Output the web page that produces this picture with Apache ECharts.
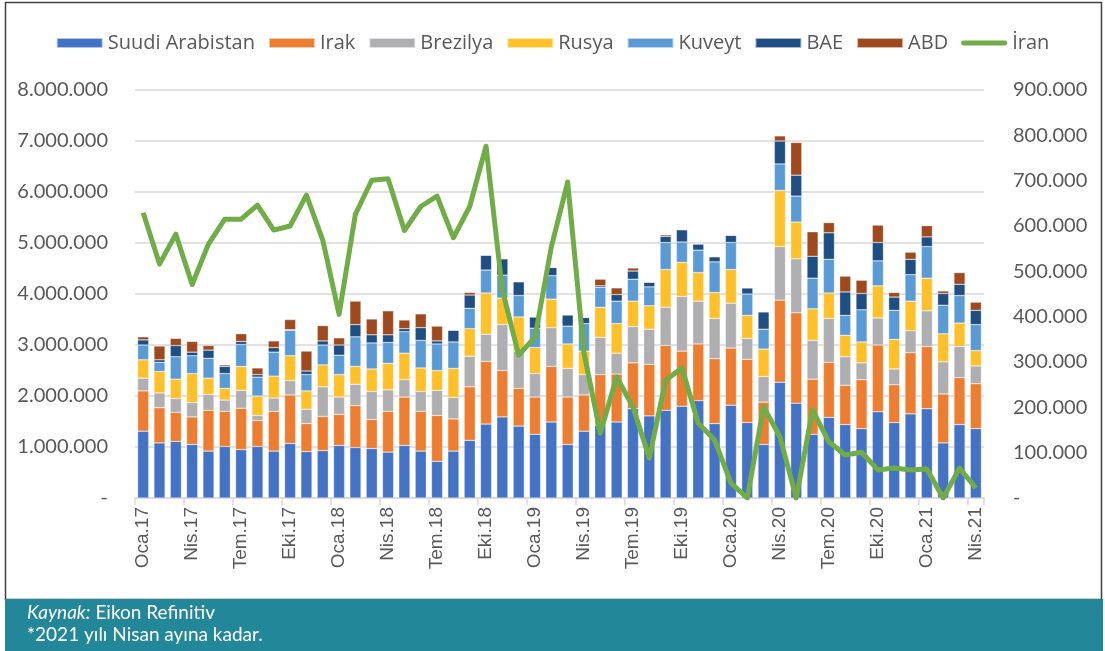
<!DOCTYPE html>
<html>
<head>
<meta charset="utf-8">
<script src="https://cdn.jsdelivr.net/npm/echarts@6/dist/echarts.min.js"></script>
<style>
  html, body { margin: 0; padding: 0; background: #fff; }
  #chart { width: 1105px; height: 651px; }
</style>
</head>
<body>
<div id="chart"></div>
<script>
// ay adlari, yillar
const months = ['Oca', 'Şub', 'Mar', 'Nis', 'May', 'Haz', 'Tem', 'Ağu', 'Eyl', 'Eki', 'Kas', 'Ara']
const years = ['17', '18', '19', '20', '21']
const categories = []
years.forEach(y => months.forEach(m => categories.push(m + '.' + y)))
categories.length = 52 // Nis.21'e kadar

// milyon cinsinden okunan degerler
const suudi = [1.31,1.08,1.11,1.05,0.92,1.01,0.95,1.01,0.92,1.07,0.91,0.93,1.03,0.99,0.97,0.90,1.03,0.92,0.72,0.92,1.13,1.45,1.59,1.41,1.25,1.49,1.05,1.31,1.43,1.49,1.75,1.61,1.72,1.80,1.91,1.46,1.82,1.48,1.05,2.27,1.86,1.25,1.58,1.44,1.36,1.69,1.48,1.65,1.75,1.08,1.44,1.36]
const irak = [0.79,0.69,0.57,0.54,0.80,0.69,0.81,0.51,0.78,0.95,0.55,0.67,0.61,0.82,0.57,0.80,0.95,0.78,0.90,0.63,1.05,1.23,0.91,0.74,0.73,1.09,0.93,0.71,0.99,0.94,0.90,1.01,1.27,1.08,1.11,1.27,1.12,1.24,0.83,1.61,1.77,1.08,1.08,0.77,0.96,1.31,0.74,1.20,1.22,0.96,0.92,0.88]
const brezilya = [0.25,0.29,0.27,0.28,0.31,0.22,0.35,0.10,0.26,0.28,0.28,0.58,0.34,0.42,0.55,0.42,0.34,0.39,0.49,0.42,0.60,0.53,0.90,0.73,0.46,0.76,0.56,0.40,0.73,0.41,0.71,0.69,0.75,1.07,0.84,0.79,0.88,0.41,0.50,1.05,1.06,0.76,0.86,0.56,0.33,0.53,0.31,0.43,0.70,0.63,0.61,0.35]
const rusya = [0.36,0.42,0.38,0.57,0.32,0.23,0.47,0.38,0.43,0.49,0.36,0.43,0.44,0.35,0.44,0.52,0.52,0.46,0.39,0.57,0.54,0.81,0.52,0.67,0.51,0.56,0.48,0.46,0.59,0.58,0.50,0.46,0.74,0.67,0.56,0.51,0.66,0.45,0.54,1.10,0.72,0.62,0.50,0.42,0.41,0.63,0.58,0.58,0.64,0.55,0.46,0.30]
const kuveyt = [0.29,0.18,0.44,0.35,0.39,0.29,0.43,0.37,0.47,0.50,0.32,0.39,0.38,0.58,0.51,0.41,0.42,0.54,0.52,0.52,0.40,0.45,0.45,0.42,0.38,0.46,0.35,0.54,0.39,0.44,0.43,0.37,0.53,0.40,0.44,0.60,0.53,0.42,0.39,0.52,0.51,0.60,0.66,0.39,0.63,0.49,0.57,0.52,0.62,0.56,0.54,0.51]
const bae = [0.10,0.05,0.22,0.07,0.16,0.14,0.06,0.05,0.09,0.01,0.07,0.08,0.20,0.24,0.16,0.15,0.06,0.25,0.06,0.23,0.26,0.29,0.32,0.27,0.22,0.16,0.22,0.12,0.03,0.13,0.16,0.09,0.12,0.24,0.12,0.10,0.14,0.12,0.34,0.45,0.41,0.43,0.52,0.46,0.32,0.36,0.26,0.30,0.19,0.23,0.22,0.28]
const abd = [0.06,0.27,0.14,0.21,0.09,0.03,0.15,0.13,0.13,0.20,0.39,0.30,0.14,0.46,0.31,0.47,0.17,0.27,0.29,0,0.05,0,0,0,0,0,0,0,0.13,0.13,0.06,0,0.03,0,0,0,0,0,0,0.10,0.64,0.48,0.20,0.31,0.26,0.34,0.09,0.14,0.22,0.05,0.23,0.16]
// bin cinsinden, sag eksen
const iran = [629,516,582,471,560,615,615,646,591,600,668,569,405,626,701,704,590,643,666,574,643,776,459,315,355,554,697,320,143,267,201,88,260,287,165,128,33,0,201,135,0,194,124,95,101,62,66,62,64,0,66,22]

const leftTicks = [0, 8000000, 1000000]
const rightTicks = [0, 900000, 100000]

const barNames = ['Suudi Arabistan', 'Irak', 'Brezilya', 'Rusya', 'Kuveyt', 'BAE', 'ABD']
const barData = [suudi, irak, brezilya, rusya, kuveyt, bae, abd]
const barColors = ['#4472c4', '#ed7d31', '#afafb1', '#ffc02a', '#5b9bd5', '#1f4e83', '#9e4a1e']

const txt = '#595959'
const font = 'Lato, "Open Sans", sans-serif'

function fmt(v) {
  if (v === 0) return '-'
  return String(v).replace(/\B(?=(\d{3})+(?!\d))/g, '.')
}

const chart = echarts.init(document.getElementById('chart'))

const series = barNames.map((n, k) => ({
  name: n,
  type: 'bar',
  stack: 'ithalat',
  barCategoryGap: '32%',
  itemStyle: { color: barColors[k], borderColor: 'rgba(255,255,255,0.6)', borderWidth: 0.5 },
  data: barData[k].map(v => Math.round(v * 1000000))
}))
series.push({
  name: 'İran',
  type: 'line',
  yAxisIndex: 1,
  symbol: 'none',
  z: 5,
  lineStyle: { color: '#70ad47', width: 5, join: 'round' },
  itemStyle: { color: '#70ad47' },
  data: iran.map(v => v * 1000)
})

chart.setOption({
  animation: false,
  textStyle: { fontFamily: font },
  grid: { left: 135, right: 121, top: 90, bottom: 153, containLabel: false },
  legend: {
    top: 28,
    left: 'center',
    itemWidth: 46,
    itemHeight: 10,
    itemGap: 13,
    symbolKeepAspect: true,
    textStyle: { color: txt, fontSize: 20, fontFamily: '"Open Sans", sans-serif' },
    data: barNames.map(n => ({ name: n, icon: 'rect' })).concat([{
      name: 'İran',
      icon: 'path://M2.5,0 L43.5,0 A2.5,2.5 0 0 1 43.5,5 L2.5,5 A2.5,2.5 0 0 1 2.5,0 Z',
      itemStyle: { color: '#70ad47' }
    }])
  },
  xAxis: {
    type: 'category',
    data: categories,
    axisLine: { lineStyle: { color: '#d9d9d9', width: 1.5 } },
    axisTick: { show: true, interval: 2, length: 7, lineStyle: { color: '#d9d9d9', width: 1.5 } },
    axisLabel: { interval: 2, rotate: 90, color: txt, fontSize: 19, margin: 9, fontFamily: 'Arimo, "Liberation Sans", sans-serif' }
  },
  yAxis: [
    {
      type: 'value',
      min: leftTicks[0],
      max: leftTicks[1],
      interval: leftTicks[2],
      axisLine: { show: false },
      axisTick: { show: false },
      splitLine: { lineStyle: { color: '#d9d9d9', width: 1.5 } },
      axisLabel: { color: txt, fontSize: 20, margin: 27, formatter: fmt }
    },
    {
      type: 'value',
      min: rightTicks[0],
      max: rightTicks[1],
      interval: rightTicks[2],
      axisLine: { show: false },
      axisTick: { show: false },
      splitLine: { show: false },
      axisLabel: { color: txt, fontSize: 20, margin: 29, formatter: fmt }
    }
  ],
  graphic: [
    {
      type: 'rect',
      shape: { x: 5.5, y: 2.5, width: 1096, height: 597 },
      style: { fill: 'none', stroke: '#404040', lineWidth: 1.5 },
      silent: true
    },
    {
      type: 'rect',
      shape: { x: 5, y: 599, width: 1098, height: 52 },
      style: { fill: '#23879a' },
      silent: true
    },
    {
      type: 'text',
      left: 27,
      top: 602,
      style: {
        text: '{i|Kaynak:} Eikon Refinitiv\n*2021 yılı Nisan ayına kadar.',
        fill: '#fff',
        font: '19px ' + font,
        lineHeight: 22,
        rich: {
          i: { fontStyle: 'italic', fill: '#fff', fontSize: 19, fontFamily: font }
        }
      }
    }
  ],
  series: series
})
</script>
</body>
</html>
